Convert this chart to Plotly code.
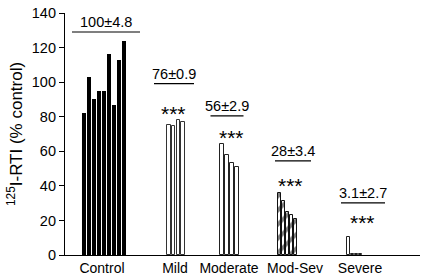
import plotly.graph_objects as go

# ---- data ----
groups = ["Control", "Mild", "Moderate", "Mod-Sev", "Severe"]
control = [82, 103, 90, 95, 95, 116, 87, 113, 124]
mild = [75, 74.5, 78, 77]
moderate = [64, 58, 53, 51]
modsev = [36, 31, 25, 23, 21]
severe = [10.5, 0.8, 0.8, 0.8]
stats = ["100±4.8", "76±0.9", "56±2.9", "28±3.4", "3.1±2.7"]
signif = ["", "***", "***", "***", "***"]

series = [control, mild, moderate, modsev, severe]

# ---- layout (positions in axis units along x) ----
group_center = [39, 111, 164.5, 222.5, 289.5]
bar_step = [5, 4.75, 5, 3.9, 4]
bar_width = [3.3, 3.6, 3.6, 3.0, 2.6]
label_x = [37, 110, 164, 230, 295]
stat_x = [41, 109, 162, 228, 298]
star_x = [0, 108, 166, 225, 297]
line_half = [34, 20, 16.5, 18, 22]
stat_line_y = [129, 99.2, 80.5, 54.5, 30.2]
star_y = [0, 82.8, 69.4, 41.6, 20.2]

fills = [
    dict(marker_color="black", marker_line=dict(color="black", width=0)),
    dict(marker_color="white", marker_line=dict(color="#333", width=1)),
    dict(marker_color="white", marker_line=dict(color="#222", width=1)),
    dict(marker_color="white", marker_line=dict(color="#111", width=1),
         marker_pattern=dict(shape="/", size=10, solidity=0.4, fgcolor="black")),
    dict(marker_color="white", marker_line=dict(color="#222", width=1)),
]

fig = go.Figure()
for gi, vals in enumerate(series):
    n = len(vals)
    xs = [group_center[gi] + bar_step[gi] * (i - (n - 1) / 2) for i in range(n)]
    fig.add_trace(go.Bar(x=xs, y=vals, width=bar_width[gi], showlegend=False,
                         hoverinfo="skip", **fills[gi]))

font = dict(family="Liberation Sans, Arial, sans-serif", color="black")
for gi in range(len(groups)):
    y0 = stat_line_y[gi]
    fig.add_shape(type="line", xref="x", yref="y",
                  x0=stat_x[gi] - line_half[gi], x1=stat_x[gi] + line_half[gi],
                  y0=y0, y1=y0, line=dict(color="black", width=1.2))
    fig.add_annotation(x=stat_x[gi], y=y0, text=stats[gi], showarrow=False,
                       yanchor="bottom", yshift=0, font=dict(size=14.5, **font))
    if signif[gi]:
        fig.add_annotation(x=star_x[gi], y=star_y[gi], text=signif[gi], showarrow=False,
                           yanchor="middle", yshift=-2, font=dict(size=21, **font))

fig.update_layout(
    width=422, height=280,
    margin=dict(l=65, r=2, t=13, b=25),
    paper_bgcolor="white", plot_bgcolor="white",
    bargap=0,
    font=font,
)
fig.update_xaxes(range=[0, 355], showgrid=False, zeroline=False,
                 showline=True, linecolor="black", linewidth=1.2,
                 tickmode="array", tickvals=label_x, ticktext=groups,
                 ticks="", tickfont=dict(size=14, **font))
fig.update_yaxes(range=[0, 140], showgrid=False, zeroline=False,
                 showline=True, linecolor="black", linewidth=1.2,
                 tickmode="array", tickvals=list(range(0, 141, 20)),
                 ticks="outside", ticklen=5, tickcolor="black", tickwidth=1.2,
                 tickfont=dict(size=14.5, **font),
                 title=dict(text="<sup>125</sup>I-RTI (% control)",
                            font=dict(size=17, **font), standoff=4))

fig.write_html("out.html", config={"displayModeBar": False},
               post_script="document.body.style.margin='0';")
